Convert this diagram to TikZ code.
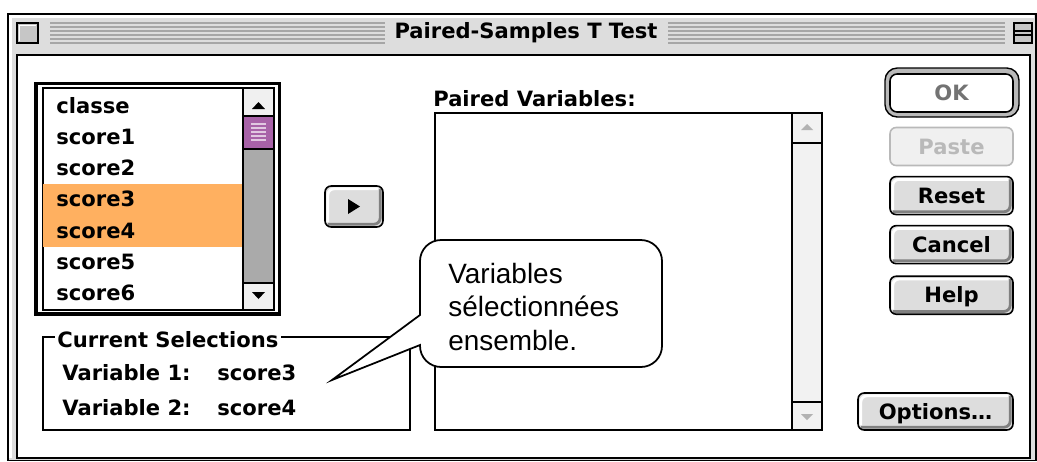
\documentclass[tikz,border=0pt]{standalone}
\usepackage{fontspec}
\usetikzlibrary{positioning}
\newfontfamily\chicagofont{DejaVu Sans}
\newfontfamily\notefont{Liberation Sans}
\definecolor{framegray}{HTML}{DDDDDD}
\definecolor{btngray}{HTML}{DDDDDD}
\definecolor{selorange}{HTML}{FFB060}
\definecolor{thumbpurple}{HTML}{A862A8}
\definecolor{trackgray}{HTML}{AAAAAA}

\tikzset{
  mac/.style={font=\chicagofont\bfseries\fontsize{12}{14}\selectfont, inner sep=0pt},
  macbtn/.style={mac, draw=black, fill=btngray, line width=0.9pt, rounded corners=3.5pt,
    minimum width=2.46cm, minimum height=0.76cm, text height=8.8pt, text depth=0pt,
    path picture={
      \draw[white, line width=1.6pt] ([shift={(1.6pt,2.6pt)}]path picture bounding box.south west) |- ([shift={(-2.6pt,-1.6pt)}]path picture bounding box.north east);
      \draw[gray, line width=1.6pt] ([shift={(1.6pt,1.6pt)}]path picture bounding box.south west) -| ([shift={(-1.6pt,-1.6pt)}]path picture bounding box.north east);
    }},
  offbtn/.style={mac, draw=gray!55, fill=gray!12, text=gray!55, line width=0.9pt, rounded corners=3.5pt,
    minimum width=2.46cm, minimum height=0.76cm, text height=8.8pt, text depth=0pt},
  okbtn/.style={mac, draw=black, fill=white, text=black!55, line width=0.9pt, rounded corners=4pt,
    minimum width=2.46cm, minimum height=0.76cm, text height=8.8pt, text depth=0pt},
  notetext/.style={font=\notefont\fontsize{15.9}{19.3}\selectfont, align=left, inner sep=0pt}
}

\begin{document}
\begin{tikzpicture}[x=0.02cm, y=-0.02cm]
\useasboundingbox (0,0) rectangle (1037,461);
\fill[white] (0,0) rectangle (1037,461);

% window frame
{
\draw[black, line width=1pt, fill=framegray] (8,14) rectangle (1036,460.5);
\draw[white, line width=1.2pt] (10.5,458) -- (10.5,16.5) -- (1033.5,16.5);
\draw[black, line width=1pt, fill=white] (17,55) rectangle (1030,458);
}

% title bar
{
\draw[black, line width=0.8pt, fill=gray!45] (17,23) rectangle (38,43);
\draw[white, line width=1pt] (19.5,40.5) -- (19.5,25.5) -- (35.5,25.5);

\foreach \y in {23,27,...,43}
{
\draw[gray!70, line width=0.7pt] (50,\y) -- (385,\y);
\draw[gray!70, line width=0.7pt] (668,\y) -- (1005,\y);
}

\draw[black, line width=0.8pt, fill=gray!45] (1014,23) rectangle (1032,43);
\draw[black, line width=0.8pt] (1014,31) -- (1032,31);
\draw[black, line width=0.8pt] (1014,35) -- (1032,35);

\node[mac, anchor=base] (title) at (526,38) {Paired-Samples T Test};
}

% variable list
{
\draw[black, line width=2pt] (36,83.5) rectangle (279.5,314);
\draw[black, line width=0.8pt, fill=white] (43,88) rectangle (274,310);
\fill[selorange] (43.4,184) rectangle (243,247);

\foreach \v [count=\i from 0] in {classe,score1,score2,score3,score4,score5,score6}
{
\node[mac, anchor=base west] (var\i) at (56,{113+31.3*\i}) {\v};
}

% scroll bar
\draw[black, line width=0.8pt, fill=trackgray] (243,88) rectangle (274,310);
\draw[black, line width=0.8pt, fill=gray!12] (243,88) rectangle (274,116);
\draw[black, line width=0.8pt, fill=gray!12] (243,283) rectangle (274,310);
\fill[black] (252,109) -- (265,109) -- (258.5,102) -- cycle;
\fill[black] (252,292) -- (265,292) -- (258.5,299) -- cycle;
\draw[black, line width=0.8pt, fill=thumbpurple] (243,116) rectangle (274,149);
\foreach \y in {124,128,...,140}
{
\draw[thumbpurple!35!white, line width=0.8pt] (251,\y) -- (266,\y);
}
}

% move button
\node[macbtn, minimum width=1.16cm, minimum height=0.82cm] (move) at (354,206.5) {};
\fill[black] (348,199) -- (348,214) -- (360,206.5) -- cycle;

% current selections
{
\draw[black, line width=0.7pt] (43,337) rectangle (410,430);
\node[mac, fill=white, inner xsep=1.5pt, anchor=base west] (cursel) at (54.5,347) {Current Selections};

\node[mac, anchor=base west] (var1label) at (62,380) {Variable 1:};
\node[mac, anchor=base west] (var1value) at (217,380) {score3};
\node[mac, anchor=base west] (var2label) at (62,415) {Variable 2:};
\node[mac, anchor=base west] (var2value) at (217,415) {score4};
}

% paired variables
{
\node[mac, anchor=base west] (pairedlabel) at (433,106) {Paired Variables:};
\draw[black, line width=0.8pt, fill=white] (435,113) rectangle (822,430);
\draw[black, line width=0.8pt, fill=gray!10] (792,113) rectangle (822,430);
\draw[black, line width=0.8pt] (792,143) -- (822,143);
\draw[black, line width=0.8pt] (792,402) -- (822,402);
\fill[gray!60] (801,130) -- (813,130) -- (807,124) -- cycle;
\fill[gray!60] (801,414) -- (813,414) -- (807,420) -- cycle;
}

% buttons
{
\draw[black, line width=0.8pt, fill=gray!55, rounded corners=7pt] (885,68) rectangle (1019,117);
\node[okbtn] (ok) at (951.5,93) {OK};
\node[offbtn] (paste) at (951.5,146.5) {Paste};
\node[macbtn, below=0.19cm of paste] (reset) {Reset};
\node[macbtn, below=0.19cm of reset] (cancel) {Cancel};
\node[macbtn, below=0.22cm of cancel] (help) {Help};
\node[macbtn, minimum width=3.1cm, minimum height=0.74cm] (options) at (935.5,411.5) {Options…};
}

% callout
{
\coordinate (tip) at (332,380);
\draw[black, line width=1pt, fill=white] (tip) -- (420,315) [rounded corners=12pt] -- (420,240) -- (662,240) -- (662,367) -- (420,367) [sharp corners] -- (420,345) -- cycle;
\node[notetext, anchor=west] (note) at (448,307) {Variables\\sélectionnées\\ensemble.};
}
\end{tikzpicture}
\end{document}
